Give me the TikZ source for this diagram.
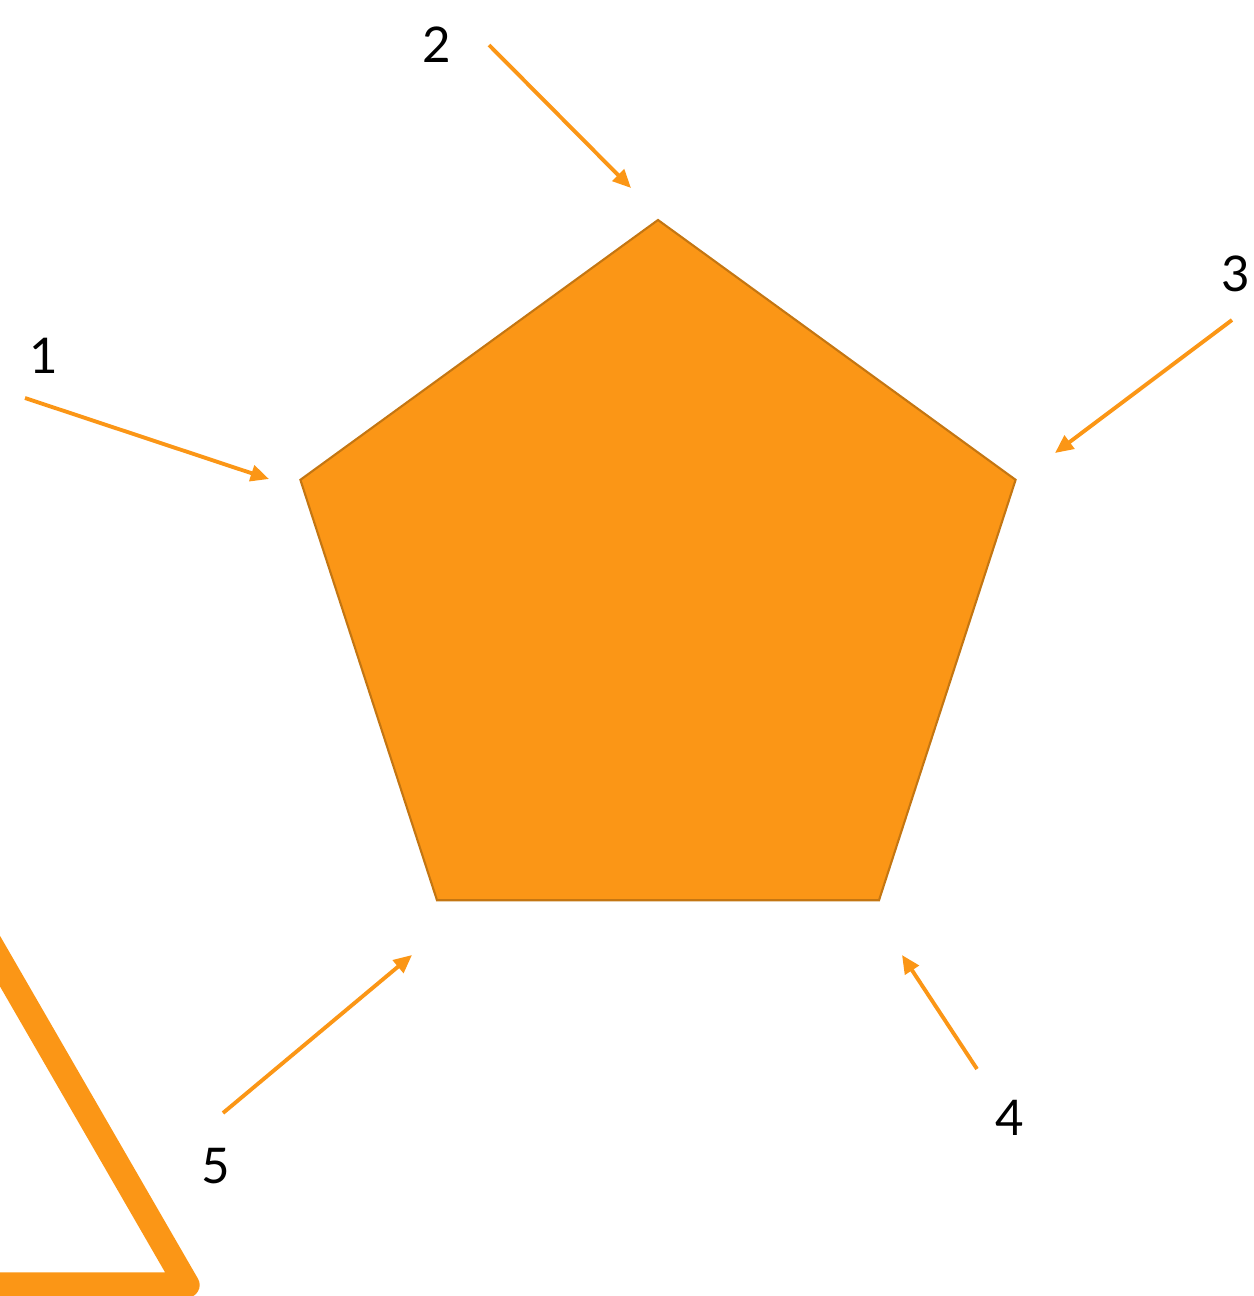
\documentclass[tikz,border=0pt]{standalone}
\usepackage{fontspec}
\setmainfont{Lato}
\usepackage{tikz}
\usetikzlibrary{shapes.geometric, arrows.meta}
\definecolor{pentaorange}{RGB}{251, 150, 22}
\definecolor{pentaedge}{RGB}{196, 118, 18}

\begin{document}
\begin{tikzpicture}[
    penta/.style={regular polygon, regular polygon sides=5, minimum size=7.52cm, inner sep=0pt, outer sep=0pt, fill=pentaorange, draw=pentaedge, line width=0.6pt},
    pointer/.style={-{Triangle[length=5.2pt, width=4.6pt]}, line width=1.1pt, pentaorange},
    num/.style={font=\fontsize{14}{16}\selectfont, inner sep=0pt, text=black}
]
\useasboundingbox (0,0) rectangle (12.54,-12.96);
\clip (0,0) rectangle (12.54,-12.96);

% Outline triangle, cut by the frame
\draw[pentaorange, line width=7.2pt, line join=round] (1.87,-12.85) -- (-4.13,-12.85) -- (-1.13,-7.654) -- cycle;

% Pentagon
\node[penta] (pent) at (6.58,-5.96) {};

% Arrow ends
\coordinate (s1) at (0.25,-3.98);
\coordinate (t1) at (2.69,-4.79);
\coordinate (s2) at (4.89,-0.45);
\coordinate (t2) at (6.31,-1.88);
\coordinate (s3) at (12.32,-3.20);
\coordinate (t3) at (10.55,-4.53);
\coordinate (s4) at (9.77,-10.69);
\coordinate (t4) at (9.02,-9.55);
\coordinate (s5) at (2.23,-11.13);
\coordinate (t5) at (4.12,-9.55);

% Arrows
\draw[pointer] (s1) -- (t1);
\draw[pointer] (s2) -- (t2);
\draw[pointer] (s3) -- (t3);
\draw[pointer] (s4) -- (t4);
\draw[pointer] (s5) -- (t5);

% Numbers
\node[num] (n1) at (0.44,-3.56) {1};
\node[num] (n2) at (4.37,-0.45) {2};
\node[num] (n3) at (12.36,-2.74) {3};
\node[num] (n4) at (10.10,-11.18) {4};
\node[num] (n5) at (2.16,-11.66) {5};
\end{tikzpicture}
\end{document}
